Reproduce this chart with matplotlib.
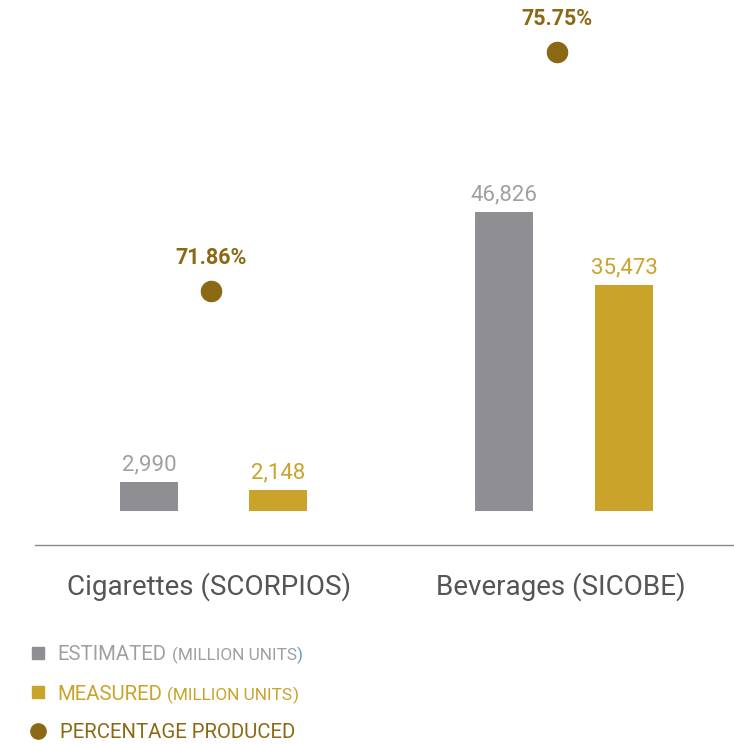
import matplotlib
matplotlib.use("Agg")

import matplotlib.pyplot as plt

plt.rcParams["font.family"] = ["Roboto", "DejaVu Sans"]

# per-programme figures: estimated vs measured output, plus share produced
groups = ["Cigarettes (SCORPIOS)", "Beverages (SICOBE)"]
estimated = [2990, 46826]          # million units
measured = [2148, 35473]           # million units
pct_produced = [71.86, 75.75]      # %

GRAY = "#8e8e93"
GRAY_TXT = "#a0a0a4"
GOLD = "#c9a32a"
DARK_GOLD = "#8b6914"

W, H = 734, 744
fig = plt.figure(figsize=(W / 100, H / 100), dpi=100)


def px_axes(x0, x1, y_top, y_base):
    """Axes placed by pixel edges (origin top-left)."""
    return fig.add_axes([x0 / W, 1 - y_base / H, (x1 - x0) / W, (y_base - y_top) / H])


# each programme is drawn on its own value scale
panels = [
    dict(x0=84.5, x1=342.5, ymax=51800, pmax=166.9, width=0.45, dot_x=0.48),
    dict(x0=444, x1=684, ymax=80030, pmax=84.3, width=0.483, dot_x=0.44),
]

for i, p in enumerate(panels):
    ax = px_axes(p["x0"], p["x1"], 0, 511)
    ax.set_xlim(-0.5, 1.5)
    ax.set_ylim(0, p["ymax"])
    vals = [estimated[i], measured[i]]
    colors = [GRAY, GOLD]
    txt_colors = [GRAY_TXT, GOLD]
    bars = ax.bar([0, 1], vals, width=p["width"], color=colors)
    for b, v, c in zip(bars, vals, txt_colors):
        ax.annotate(f"{v:,}", (b.get_x() + b.get_width() / 2, v),
                    xytext=(0, 4.5), textcoords="offset points",
                    ha="center", va="bottom", fontsize=16, color=c)
    ax.axis("off")

    pax = ax.twinx()
    pax.set_ylim(0, p["pmax"])
    pax.plot([p["dot_x"]], [pct_produced[i]], "o", ms=14.5, color=DARK_GOLD)
    pax.annotate(f"{pct_produced[i]:.2f}%", (p["dot_x"], pct_produced[i]),
                 xytext=(0, 16), textcoords="offset points",
                 ha="center", va="bottom", fontsize=15.5, fontweight="bold",
                 color=DARK_GOLD)
    pax.axis("off")

# overlay in pixel coordinates for baseline, category names and legend
lay = fig.add_axes([0, 0, 1, 1])
lay.set_xlim(0, W)
lay.set_ylim(H, 0)
lay.axis("off")

lay.plot([35, W], [545, 545], color="#8a8a8a", lw=1)
for name, xc in zip(groups, [209, 561]):
    lay.text(xc, 586.5, name, ha="center", va="center", fontsize=20, color="#555555")

legend_rows = [
    ("s", GRAY, "ESTIMATED", GRAY_TXT, "(MILLION UNITS", ")", "#5b9bd5", 653, 57),
    ("s", GOLD, "MEASURED", GOLD, "(MILLION UNITS", ")", GOLD, 692, 57),
    ("o", DARK_GOLD, "PERCENTAGE PRODUCED", DARK_GOLD, None, None, None, 731, 60),
]
for mk, mc, label, tc, unit, close, close_c, y, tx in legend_rows:
    ms = 9 if mk == "s" else 11
    lay.plot([38], [y], mk, ms=ms, color=mc)
    t1 = lay.text(tx, y + 2, label, ha="left", va="center", fontsize=14.7, color=tc)
    if unit:
        t2 = lay.annotate(unit, xy=(1, 0), xycoords=t1, xytext=(4, 0),
                          textcoords="offset points", ha="left", va="bottom",
                          fontsize=12.4, color=tc)
        lay.annotate(close, xy=(1, 0), xycoords=t2, ha="left", va="bottom",
                     fontsize=12.4, color=close_c)

fig.savefig("out.png", dpi=100)
